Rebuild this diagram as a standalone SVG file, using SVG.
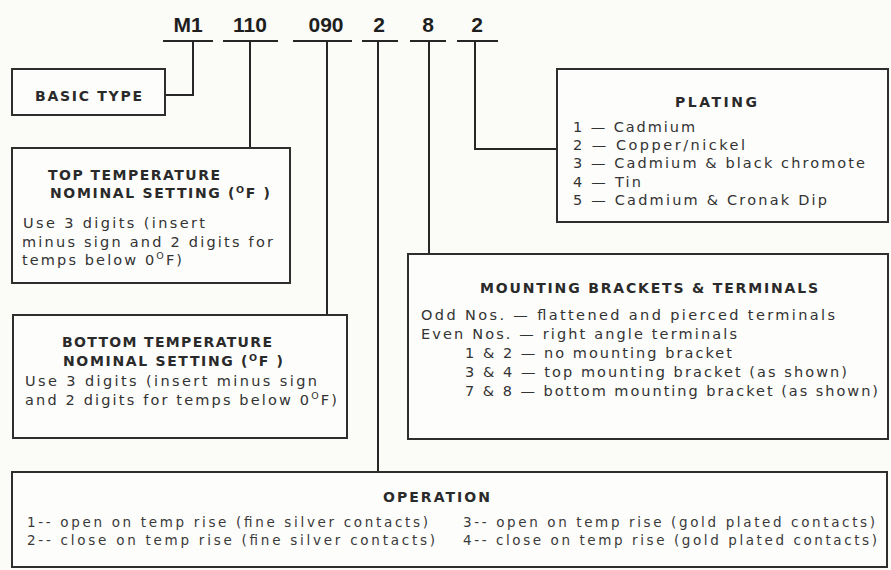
<svg xmlns="http://www.w3.org/2000/svg" width="891" height="570" viewBox="0 0 891 570">
<style>
.bg{fill:#fbfbf8}
.box{fill:#fdfdfb;stroke:#2e2e2e;stroke-width:2}
.ln{fill:none;stroke:#262626;stroke-width:2}
.code{font-family:"Liberation Sans",Arial,sans-serif;font-weight:bold;font-size:21px;fill:#1e1e1e;text-anchor:middle}
.ttl{font-family:"DejaVu Sans","Liberation Sans",sans-serif;font-weight:bold;font-size:14px;fill:#2a2a2a}
.txt{font-family:"DejaVu Sans","Liberation Sans",sans-serif;font-size:14.5px;fill:#333}
.op{font-family:"DejaVu Sans","Liberation Sans",sans-serif;font-size:13.5px;fill:#3a3a3a}
.sup{font-size:9.5px}
</style>
<rect class="bg" x="0" y="0" width="891" height="570"/>
<g id="codes">
<text class="code" x="188" y="32">M1</text>
<text class="code" x="250" y="32">110</text>
<text class="code" x="326" y="32">090</text>
<text class="code" x="379" y="32">2</text>
<text class="code" x="428" y="32">8</text>
<text class="code" x="477" y="32">2</text>
</g>
<g id="connectors">
<line class="ln" x1="163" y1="41" x2="213" y2="41"/>
<line class="ln" x1="223" y1="41" x2="278" y2="41"/>
<line class="ln" x1="293" y1="41" x2="352" y2="41"/>
<line class="ln" x1="362" y1="41" x2="398" y2="41"/>
<line class="ln" x1="410" y1="41" x2="446" y2="41"/>
<line class="ln" x1="457" y1="41" x2="498" y2="41"/>
<polyline class="ln" points="193,41 193,95 165,95"/>
<line class="ln" x1="250" y1="41" x2="250" y2="148"/>
<line class="ln" x1="327" y1="41" x2="327" y2="315"/>
<line class="ln" x1="378" y1="41" x2="378" y2="472"/>
<line class="ln" x1="429" y1="41" x2="429" y2="254"/>
<polyline class="ln" points="475,41 475,149 557,149"/>
</g>
<g id="basic-type">
<rect class="box" x="12" y="69" width="153" height="46"/>
<text class="ttl" x="35" y="101" textLength="107" lengthAdjust="spacing">BASIC TYPE</text>
</g>
<g id="top-temperature">
<rect class="box" x="12" y="148" width="278" height="135"/>
<text class="ttl" x="48" y="180" textLength="172" lengthAdjust="spacing">TOP TEMPERATURE</text>
<text class="ttl" x="50" y="198" textLength="220" lengthAdjust="spacing">NOMINAL SETTING (<tspan class="sup" dy="-5">O</tspan><tspan dy="5">F )</tspan></text>
<text class="txt" x="23" y="228" textLength="182" lengthAdjust="spacing">Use 3 digits (insert</text>
<text class="txt" x="22" y="247" textLength="251" lengthAdjust="spacing">minus sign and 2 digits for</text>
<text class="txt" x="22" y="265" textLength="160" lengthAdjust="spacing">temps below 0<tspan class="sup" dy="-6">O</tspan><tspan dy="6">F)</tspan></text>
</g>
<g id="bottom-temperature">
<rect class="box" x="13" y="315" width="334" height="123"/>
<text class="ttl" x="62" y="347" textLength="210" lengthAdjust="spacing">BOTTOM TEMPERATURE</text>
<text class="ttl" x="63" y="366" textLength="220" lengthAdjust="spacing">NOMINAL SETTING (<tspan class="sup" dy="-5">O</tspan><tspan dy="5">F )</tspan></text>
<text class="txt" x="25" y="386" textLength="292" lengthAdjust="spacing">Use 3 digits (insert minus sign</text>
<text class="txt" x="25" y="405" textLength="312" lengthAdjust="spacing">and 2 digits for temps below 0<tspan class="sup" dy="-6">O</tspan><tspan dy="6">F)</tspan></text>
</g>
<g id="plating">
<rect class="box" x="557" y="69" width="331" height="153"/>
<text class="ttl" x="675" y="107" textLength="82" lengthAdjust="spacing">PLATING</text>
<text class="txt" x="573" y="132" textLength="122" lengthAdjust="spacing">1 — Cadmium</text>
<text class="txt" x="573" y="150" textLength="172" lengthAdjust="spacing">2 — Copper/nickel</text>
<text class="txt" x="573" y="168" textLength="292" lengthAdjust="spacing">3 — Cadmium &amp; black chromote</text>
<text class="txt" x="573" y="187" textLength="68" lengthAdjust="spacing">4 — Tin</text>
<text class="txt" x="573" y="205" textLength="254" lengthAdjust="spacing">5 — Cadmium &amp; Cronak Dip</text>
</g>
<g id="mounting">
<rect class="box" x="408" y="254" width="480" height="185"/>
<text class="ttl" x="480" y="293" textLength="338" lengthAdjust="spacing">MOUNTING BRACKETS &amp; TERMINALS</text>
<text class="txt" x="421" y="320" textLength="414" lengthAdjust="spacing">Odd Nos.  — flattened and pierced terminals</text>
<text class="txt" x="421" y="339" textLength="316" lengthAdjust="spacing">Even Nos. — right angle terminals</text>
<text class="txt" x="465" y="358" textLength="267" lengthAdjust="spacing">1 &amp; 2 — no mounting bracket</text>
<text class="txt" x="465" y="377" textLength="382" lengthAdjust="spacing">3 &amp; 4 — top mounting bracket (as shown)</text>
<text class="txt" x="465" y="396" textLength="413" lengthAdjust="spacing">7 &amp; 8 — bottom mounting bracket (as shown)</text>
</g>
<g id="operation">
<rect class="box" x="12" y="472" width="875" height="95"/>
<text class="ttl" x="383" y="502" textLength="107" lengthAdjust="spacing">OPERATION</text>
<text class="op" x="27" y="527" textLength="401" lengthAdjust="spacing">1-- open on temp rise (fine silver contacts)</text>
<text class="op" x="27" y="545" textLength="408" lengthAdjust="spacing">2-- close on temp rise (fine silver contacts)</text>
<text class="op" x="463" y="527" textLength="412" lengthAdjust="spacing">3-- open on temp rise (gold plated contacts)</text>
<text class="op" x="463" y="545" textLength="414" lengthAdjust="spacing">4-- close on temp rise (gold plated contacts)</text>
</g>
</svg>
